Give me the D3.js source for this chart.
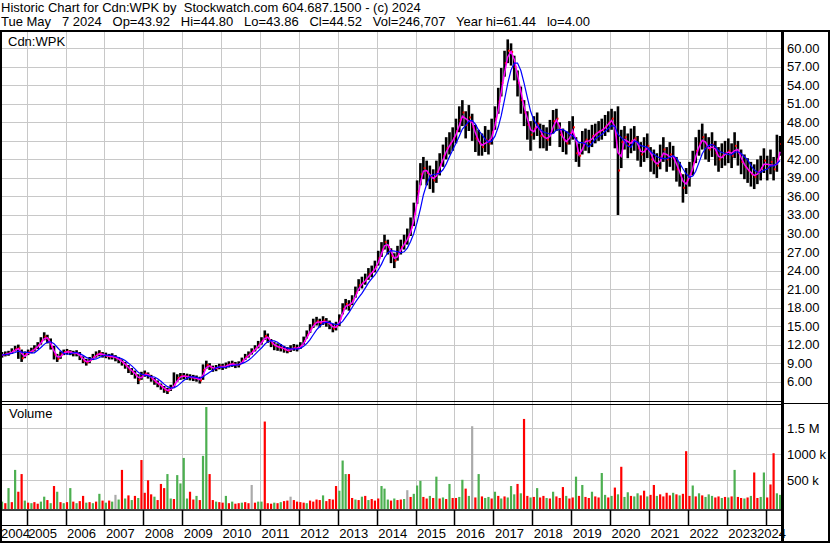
<!DOCTYPE html>
<html>
<head>
<meta charset="utf-8">
<script src="https://cdn.jsdelivr.net/npm/d3@7"></script>
<style>
  body { margin: 0; background: #fff; }
  svg { display: block; font-family: "Liberation Sans", Arial, sans-serif; }
</style>
</head>
<body>
<div id="chart"></div>
<script>
// monthly bars, May 2004 .. May 2024
const months = d3.range(241).map(i => new Date(2004, 4 + i, 15));

const hi = [
  10.8, 10.9, 11.0, 11.4, 11.8, 12.0, 11.2, 10.9,
  11.2, 11.5, 11.9, 12.4, 13.2, 14.0, 13.6, 13.0, 11.8, 10.5, 10.9, 11.2,
  11.3, 11.1, 11.0, 11.1, 10.8, 10.1, 9.7, 10.0, 10.5, 10.9, 11.1, 10.8,
  10.7, 10.5, 10.6, 10.3, 10.0, 9.6, 9.2, 8.7, 8.2, 7.8, 7.2, 7.6,
  7.8, 7.5, 7.1, 6.6, 6.2, 5.7, 5.3, 5.0, 5.5, 7.5, 7.2, 7.4,
  7.4, 7.3, 7.2, 7.1, 7.0, 6.8, 8.8, 9.4, 9.0, 8.6, 8.7, 8.9,
  8.9, 9.1, 9.3, 9.4, 9.2, 9.3, 9.9, 10.5, 10.9, 11.4, 11.9, 12.6,
  13.2, 14.3, 13.8, 12.9, 12.4, 12.2, 12.1, 11.8, 11.6, 11.9, 12.1, 12.0,
  12.4, 13.3, 14.3, 15.3, 16.2, 16.5, 16.2, 16.6, 16.3, 15.9, 15.4, 15.7,
  16.9, 18.7, 19.4, 19.2, 20.0, 21.4, 22.6, 23.0, 23.5, 24.4, 24.8, 25.6,
  27.2, 28.6, 29.8, 29.0, 27.6, 26.8, 28.0, 29.0, 29.8, 30.8, 32.6, 35.0,
  38.6, 41.4, 42.4, 41.8, 41.0, 40.4, 41.8, 43.0, 44.4, 45.6, 46.4, 47.2,
  48.6, 50.6, 51.6, 49.8, 50.8, 49.4, 47.6, 46.8, 46.2, 47.4, 46.8, 48.6,
  50.6, 53.6, 56.8, 59.6, 61.44, 60.8, 58.8, 56.4, 53.8, 51.6, 49.8, 48.2,
  49.0, 49.6, 47.8, 47.6, 47.2, 48.4, 50.0, 50.2, 48.0, 47.0, 46.6, 48.2,
  49.0, 45.6, 44.6, 46.6, 47.0, 46.8, 47.6, 47.8, 48.2, 48.6, 49.2, 49.8,
  50.2, 49.8, 50.6, 46.8, 47.4, 46.2, 47.0, 47.4, 45.8, 44.8, 45.6, 46.2,
  44.0, 43.6, 43.0, 44.4, 45.6, 44.0, 44.8, 44.2, 42.4, 41.6, 39.6, 40.6,
  41.6, 43.4, 45.6, 46.8, 47.8, 46.2, 45.6, 46.4, 45.0, 44.0, 44.6, 45.0,
  45.4, 44.6, 46.4, 45.0, 43.6, 42.8, 42.2, 41.6, 41.2, 42.0, 42.6, 43.8,
  42.6, 43.6, 42.4, 46.0, 45.8
];

const lo = [
  9.9, 10.1, 10.2, 10.5, 10.9, 9.7, 9.2, 9.8,
  10.3, 10.6, 10.9, 11.3, 12.0, 12.7, 12.2, 11.2, 9.6, 9.2, 9.7, 10.3,
  10.4, 10.3, 10.1, 10.1, 9.5, 9.0, 8.6, 9.0, 9.5, 9.9, 10.1, 9.9,
  9.8, 9.6, 9.6, 9.3, 9.0, 8.6, 8.1, 7.4, 7.1, 6.5, 5.6, 6.3,
  6.8, 6.5, 6.0, 5.5, 5.1, 4.7, 4.2, 4.0, 4.5, 5.1, 6.0, 6.3,
  6.4, 6.3, 6.2, 6.1, 6.0, 5.7, 6.3, 8.1, 7.9, 7.6, 7.7, 8.0,
  7.9, 8.1, 8.3, 8.4, 8.2, 8.3, 8.9, 9.5, 9.9, 10.4, 10.9, 11.4,
  12.0, 12.8, 12.3, 11.6, 11.1, 11.0, 10.9, 10.7, 10.6, 10.8, 11.0, 10.9,
  11.3, 12.0, 13.0, 13.9, 14.7, 15.1, 14.8, 15.2, 14.9, 14.5, 14.0, 14.3,
  15.0, 16.9, 17.7, 17.5, 18.4, 19.6, 20.7, 21.1, 21.7, 22.5, 22.9, 23.7,
  24.8, 26.2, 27.4, 26.6, 25.2, 24.4, 25.6, 26.6, 27.4, 28.2, 29.6, 31.2,
  34.8, 37.8, 38.8, 37.8, 37.2, 36.6, 38.2, 39.4, 40.8, 42.0, 42.8, 43.4,
  44.6, 46.4, 47.4, 45.4, 46.6, 45.0, 43.2, 42.6, 42.6, 43.2, 42.8, 44.4,
  46.8, 49.4, 52.2, 55.4, 57.6, 57.2, 54.8, 52.2, 49.4, 47.4, 45.2, 43.4,
  45.2, 45.8, 43.8, 43.8, 43.4, 44.2, 46.2, 46.6, 44.0, 43.2, 42.8, 44.4,
  45.2, 41.6, 40.8, 42.8, 43.4, 43.0, 44.0, 44.6, 45.0, 45.2, 45.8, 46.4,
  46.8, 43.8, 33.0, 40.6, 43.6, 42.2, 43.0, 43.4, 41.8, 40.8, 41.6, 42.2,
  40.0, 39.6, 39.0, 40.4, 41.6, 40.0, 40.8, 40.2, 38.4, 37.6, 35.0, 36.4,
  37.6, 39.4, 41.4, 42.6, 43.6, 42.0, 41.6, 42.4, 41.0, 40.0, 40.6, 41.0,
  41.4, 40.6, 42.2, 41.0, 39.6, 38.8, 38.2, 37.6, 37.2, 38.0, 38.6, 39.8,
  38.6, 39.6, 38.6, 40.0, 42.6
];

const cl = [
  10.3, 10.5, 10.6, 10.9, 11.3, 11.4, 9.8, 10.4,
  10.8, 11.0, 11.4, 11.9, 12.6, 13.3, 12.9, 11.6, 10.4, 9.7, 10.4, 10.8,
  10.9, 10.7, 10.6, 10.6, 10.0, 9.4, 9.1, 9.5, 10.0, 10.4, 10.6, 10.3,
  10.2, 10.0, 10.1, 9.8, 9.5, 9.1, 8.6, 8.0, 7.6, 7.1, 6.3, 7.0,
  7.3, 7.0, 6.5, 6.0, 5.6, 5.2, 4.7, 4.5, 5.0, 5.6, 6.6, 6.9,
  6.9, 6.8, 6.7, 6.6, 6.5, 6.2, 7.9, 8.7, 8.4, 8.1, 8.2, 8.5,
  8.4, 8.6, 8.8, 8.9, 8.7, 8.8, 9.4, 10.0, 10.4, 10.9, 11.4, 12.0,
  12.6, 13.4, 13.0, 12.2, 11.8, 11.6, 11.5, 11.2, 11.0, 11.3, 11.5, 11.4,
  11.8, 12.6, 13.6, 14.6, 15.4, 15.8, 15.5, 15.9, 15.6, 15.2, 14.6, 15.0,
  16.2, 17.8, 18.6, 18.3, 19.2, 20.4, 21.6, 22.0, 22.6, 23.4, 23.8, 24.6,
  26.0, 27.4, 28.6, 27.8, 26.4, 25.6, 26.8, 27.8, 28.6, 29.4, 31.0, 33.2,
  36.8, 39.6, 40.6, 39.8, 39.2, 38.6, 40.0, 41.2, 42.6, 43.8, 44.6, 45.4,
  46.6, 48.4, 49.6, 47.6, 48.8, 47.2, 45.4, 44.6, 44.0, 45.2, 44.6, 46.4,
  48.6, 51.4, 54.4, 57.6, 59.6, 59.4, 57.0, 54.4, 51.6, 49.6, 47.6, 46.0,
  47.0, 47.8, 45.8, 45.6, 45.2, 46.2, 48.2, 48.6, 46.0, 45.2, 44.6, 46.2,
  47.2, 43.0, 42.6, 44.6, 45.2, 44.8, 45.8, 46.2, 46.6, 46.8, 47.4, 48.0,
  48.6, 46.0, 40.2, 44.8, 45.6, 44.2, 45.0, 45.4, 43.8, 42.8, 43.6, 44.2,
  42.0, 41.6, 41.0, 42.4, 43.6, 42.0, 42.8, 42.2, 40.4, 39.6, 37.4, 38.6,
  39.6, 41.4, 43.4, 44.6, 45.6, 44.0, 43.6, 44.4, 43.0, 42.0, 42.6, 43.0,
  43.4, 42.6, 44.2, 43.0, 41.6, 40.8, 40.2, 39.6, 39.2, 40.0, 40.6, 41.8,
  40.6, 41.6, 40.4, 42.0, 44.5
];

// tallest volume bar of each month, in thousands
const vol = [
  90, 60, 350, 80, 700, 280, 620, 110,
  70, 60, 80, 50, 90, 185, 120, 60, 390, 280, 80, 60,
  80, 350, 90, 60, 100, 200, 70, 80, 60, 90, 240, 110,
  70, 110, 90, 220, 130, 700, 150, 210, 120, 200, 160, 890,
  260, 500, 230, 185, 120, 430, 350, 620, 150, 140, 600, 440,
  930, 150, 280, 130, 200, 120, 970, 1910, 620, 120, 90, 80,
  70, 200, 60, 90, 50, 60, 70, 80, 60, 410, 70, 90,
  90, 1630, 60, 50, 70, 60, 80, 100, 110, 185, 120, 90,
  80, 70, 60, 110, 90, 130, 120, 210, 100, 140, 130, 390,
  300, 880, 620, 620, 160, 130, 120, 185, 200, 120, 140, 110,
  150, 390, 340, 130, 110, 150, 120, 130, 140, 310, 180, 240,
  400, 490, 180, 150, 200, 160, 570, 150, 170, 140, 430, 160,
  160, 180, 510, 340, 200, 1540, 170, 620, 190, 160, 180, 150,
  280, 200, 150, 190, 170, 390, 230, 430, 250, 1680, 200, 170,
  180, 350, 170, 200, 160, 150, 280, 190, 160, 370, 200, 150,
  170, 570, 200, 410, 180, 160, 280, 190, 170, 640, 220, 170,
  200, 360, 230, 760, 180, 270, 200, 190, 250, 210, 300, 190,
  220, 410, 200, 230, 190, 260, 210, 260, 230, 210, 240, 1060,
  200, 400, 190, 250, 210, 180, 230, 200, 170, 190, 160, 180,
  170, 190, 700, 180, 160, 150, 170, 200, 650, 160, 180, 650,
  170, 420, 1020, 250, 220
];

// g = up, r = down, k = unchanged
const volColor = [
  "grgrgrrg", "rgrrggrgrgrg", "rgrgrrgrgrgr", "grgkgrgrgrgr", "rrrgrrrggrgg",
  "ggrrgrggrrgr", "rgrgrrgrrkrg", "grrrgrgrrkrr", "rrgrrrrgrrrr", "gggrrgrgrgrr",
  "rgggrgrrgkrg", "ggrrgrgrgrgr", "rggrgkrgrggr", "grgrgggrgrrg", "rgrrgrgrrrgr",
  "rgrgrrgrrggr", "grgrggrggrrg", "rrgrrrrgrgrr", "rgrgrgggrrgr", "grgrrgrgrrgg",
  "rrrgg"
].join("");

const priceTicks = d3.range(6, 61, 3);
const volTicks = [500, 1000, 1500];
const volTickLabels = ["500 k", "1000 k", "1.5 M"];
const titleLines = [
  "Historic Chart for Cdn:WPK by  Stockwatch.com 604.687.1500 - (c) 2024",
  "Tue May   7 2024   Op=43.92   Hi=44.80   Lo=43.86   Cl=44.52   Vol=246,707   Year hi=61.44   lo=4.00"
];

const width = 830, height = 543;
const plotRight = 782;
const priceTop = 31, priceBottom = 401;
const volTop = 405, volBottom = 509;

const svg = d3.select('#chart').append('svg')
  .attr('width', width)
  .attr('height', height);

svg.append('rect').attr('width', width).attr('height', height).attr('fill', '#fff');

const x = d3.scaleTime()
  .domain([new Date(2004, 3, 26), new Date(2024, 5, 2)])
  .range([0, plotRight]);
const yP = d3.scaleLinear().domain([2.87, 62.8]).range([priceBottom, priceTop]);
const yV = d3.scaleLinear().domain([0, 1500]).range([506.3, 428.3]);

const years = d3.timeYear.range(new Date(2005, 0, 1), new Date(2024, 1, 1));

// title
svg.selectAll('.title').data(titleLines).enter().append('text')
  .attr('x', 1)
  .attr('y', (d, i) => 12 + i * 14)
  .style('font-size', '13px')
  .style('white-space', 'pre')
  .attr('xml:space', 'preserve')
  .text(d => d);

// grid
const grid = svg.append('g').attr('stroke', '#c8c8c8').attr('stroke-width', 1);
grid.selectAll('.hp').data(priceTicks).enter().append('line')
  .attr('x1', 2).attr('x2', plotRight)
  .attr('y1', d => Math.round(yP(d)) + 0.5).attr('y2', d => Math.round(yP(d)) + 0.5);
grid.selectAll('.hv').data(volTicks).enter().append('line')
  .attr('x1', 2).attr('x2', plotRight)
  .attr('y1', d => Math.round(yV(d)) + 0.5).attr('y2', d => Math.round(yV(d)) + 0.5);
grid.selectAll('.vg').data(years).enter().append('line')
  .attr('x1', d => Math.round(x(d)) + 0.5).attr('x2', d => Math.round(x(d)) + 0.5)
  .attr('y1', priceTop).attr('y2', volBottom);

// price bars
svg.append('clipPath').attr('id', 'pclip')
  .append('rect').attr('x', 2).attr('y', priceTop).attr('width', plotRight - 2).attr('height', priceBottom - priceTop);
const price = svg.append('g').attr('clip-path', 'url(#pclip)');

price.selectAll('.bar').data(months).enter().append('rect')
  .attr('x', d => x(d) - 1.3)
  .attr('width', 2.6)
  .attr('y', (d, i) => yP(hi[i]))
  .attr('height', (d, i) => Math.max(1, yP(lo[i]) - yP(hi[i])))
  .attr('fill', '#000');

price.selectAll('.cls').data(months).enter().append('rect')
  .attr('x', d => x(d) + 0.3)
  .attr('width', 1.8)
  .attr('y', (d, i) => yP(cl[i]) - 1)
  .attr('height', 2)
  .attr('fill', '#ff0000');

function movingAvg(arr, n) {
  return arr.map((v, i) => d3.mean(arr.slice(Math.max(0, i - n + 1), i + 1)));
}
const maShort = movingAvg(cl, 2);
const maLong = movingAvg(cl, 5);

const line = d3.line().x(d => x(d[0])).y(d => yP(d[1]));
price.append('path')
  .datum(months.map((d, i) => [d, maShort[i]]))
  .attr('d', line)
  .attr('fill', 'none')
  .attr('stroke', '#ff00ff')
  .attr('stroke-width', 1.5);
price.append('path')
  .datum(months.map((d, i) => [d, maLong[i]]))
  .attr('d', line)
  .attr('fill', 'none')
  .attr('stroke', '#0000ff')
  .attr('stroke-width', 1.2);

// volume
const colorMap = { g: '#4caf50', r: '#ff0000', k: '#aaaaaa' };
svg.append('g').selectAll('rect').data(months).enter().append('rect')
  .attr('x', d => x(d) - 1.1)
  .attr('width', 2.2)
  .attr('y', (d, i) => Math.max(volTop, yV(vol[i])))
  .attr('height', (d, i) => volBottom - Math.max(volTop, yV(vol[i])))
  .attr('fill', (d, i) => colorMap[volColor[i]]);

// labels inside panels
svg.append('text').attr('x', 8).attr('y', 46).style('font-size', '13px').text('Cdn:WPK');
svg.append('text').attr('x', 9).attr('y', 418).style('font-size', '13px').text('Volume');

// right axis labels
svg.selectAll('.pl').data(priceTicks).enter().append('text')
  .attr('x', 787)
  .attr('y', d => yP(d) + 4.5)
  .style('font-size', '13px')
  .text(d => d.toFixed(2));
svg.selectAll('.vl').data(volTicks).enter().append('text')
  .attr('x', 787)
  .attr('y', d => yV(d) + 4.5)
  .style('font-size', '13px')
  .text((d, i) => volTickLabels[i]);

// frame
const frame = svg.append('g').attr('stroke', '#000').attr('fill', 'none');
frame.append('line').attr('x1', 0).attr('x2', width).attr('y1', 31).attr('y2', 31).attr('stroke-width', 2);
frame.append('line').attr('x1', 1).attr('x2', 1).attr('y1', 30).attr('y2', height).attr('stroke-width', 2);
frame.append('line').attr('x1', 829).attr('x2', 829).attr('y1', 30).attr('y2', height).attr('stroke-width', 2);
frame.append('line').attr('x1', plotRight + 0.5).attr('x2', plotRight + 0.5).attr('y1', 30).attr('y2', height).attr('stroke-width', 3);
frame.append('line').attr('x1', 0).attr('x2', plotRight).attr('y1', 401.5).attr('y2', 401.5).attr('stroke-width', 1);
frame.append('line').attr('x1', 0).attr('x2', plotRight).attr('y1', 404.5).attr('y2', 404.5).attr('stroke-width', 1);
frame.append('line').attr('x1', plotRight).attr('x2', width).attr('y1', 403.5).attr('y2', 403.5).attr('stroke-width', 1);
frame.append('line').attr('x1', 0).attr('x2', plotRight).attr('y1', 510).attr('y2', 510).attr('stroke-width', 1.5);
frame.append('line').attr('x1', 0).attr('x2', plotRight).attr('y1', 525.5).attr('y2', 525.5).attr('stroke-width', 1);
frame.append('line').attr('x1', 0).attr('x2', width).attr('y1', 542).attr('y2', 542).attr('stroke-width', 2);
frame.selectAll('.tk').data(years).enter().append('line')
  .attr('x1', d => Math.round(x(d)) + 0.5).attr('x2', d => Math.round(x(d)) + 0.5)
  .attr('y1', 510).attr('y2', 525.5)
  .attr('stroke-width', 1.5);

// year labels
const labelYears = d3.timeYear.range(new Date(2004, 0, 1), new Date(2025, 0, 1));
svg.selectAll('.yl').data(labelYears).enter().append('text')
  .attr('x', d => Math.min(Math.max(x(d) + 1.5, 1), 757))
  .attr('y', 538)
  .style('font-size', '13px')
  .text(d => d.getFullYear());
</script>
</body>
</html>
